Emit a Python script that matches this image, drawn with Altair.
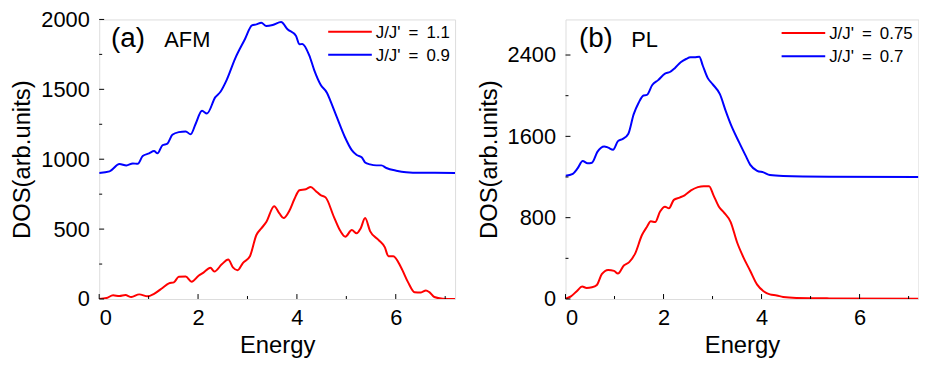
import altair as alt
import pandas as pd

# ---------------- Panel (a) AFM ----------------
a_labels = ["J/J'\u2009 = \u20091.1", "J/J'\u2009 = \u20090.9"]
a_blue_e = [0, 0.21, 0.41, 0.55, 0.68, 0.78, 0.88, 1.01, 1.11, 1.18, 1.28, 1.38, 1.48, 1.61, 1.75, 1.85,
            1.95, 2.08, 2.18, 2.35, 2.45, 2.58, 2.75, 2.95, 3.09, 3.18, 3.28, 3.38, 3.51, 3.68, 3.81,
            3.98, 4.05, 4.11, 4.25, 4.35, 4.48, 4.61, 4.68, 4.81, 4.97, 5.11, 5.21, 5.31, 5.38, 5.48,
            5.61, 5.71, 5.81, 6.01, 6.21, 6.5, 7.2]
a_blue_v = [902, 913, 965, 955, 970, 967, 1023, 1042, 1058, 1042, 1100, 1112, 1175, 1194, 1199, 1178,
            1252, 1346, 1327, 1444, 1481, 1568, 1720, 1860, 1958, 1965, 1977, 1953, 1960, 1981, 1930,
            1883, 1822, 1825, 1743, 1638, 1533, 1474, 1416, 1299, 1159, 1065, 1030, 1014, 977, 963,
            956, 956, 937, 918, 907, 903, 902]
a_red_e = [0, 0.15, 0.28, 0.41, 0.53, 0.65, 0.81, 0.98, 1.11, 1.28, 1.41, 1.51, 1.61, 1.75, 1.87, 2.01,
           2.11, 2.25, 2.33, 2.48, 2.61, 2.71, 2.80, 2.91, 3.05, 3.18, 3.28, 3.38, 3.54, 3.65, 3.73,
           3.85, 3.95, 4.05, 4.18, 4.28, 4.38, 4.48, 4.58, 4.75, 4.88, 4.98, 5.11, 5.21, 5.29, 5.38,
           5.48, 5.65, 5.78, 5.85, 5.95, 6.11, 6.25, 6.38, 6.51, 6.61, 6.68, 6.78, 6.95, 7.2]
a_red_v = [0, 7, 26, 21, 28, 14, 33, 19, 37, 79, 112, 119, 159, 161, 124, 166,
           189, 224, 196, 248, 283, 224, 206, 259, 306, 458, 505, 551, 664, 610, 579,
           633, 715, 778, 785, 801, 773, 743, 727, 586, 486, 446, 493, 470, 505, 579,
           486, 423, 369, 306, 306, 224, 119, 49, 47, 61, 49, 14, 2, 0]

# ---------------- Panel (b) PL ----------------
b_labels = ["J/J'\u2009 = \u20090.75", "J/J'\u2009 = \u20090.7"]
b_blue_e = [0, 0.15, 0.25, 0.35, 0.45, 0.54, 0.65, 0.79, 0.87, 0.97, 1.07, 1.17, 1.28, 1.39, 1.49, 1.59,
            1.66, 1.77, 1.89, 2.03, 2.13, 2.23, 2.35, 2.46, 2.55, 2.63, 2.73, 2.80, 2.90, 3.00, 3.15,
            3.27, 3.37, 3.54, 3.67, 3.77, 3.91, 4.04, 4.17, 4.44, 5.38, 7.2]
b_blue_v = [1213, 1232, 1287, 1357, 1335, 1341, 1447, 1501, 1489, 1469, 1553, 1575, 1623, 1816, 1928, 2002,
            2008, 2105, 2153, 2217, 2233, 2271, 2329, 2361, 2377, 2377, 2384, 2297, 2175, 2114, 2015,
            1848, 1720, 1543, 1415, 1319, 1261, 1245, 1219, 1210, 1203, 1200]
b_red_e = [0, 0.11, 0.23, 0.34, 0.43, 0.54, 0.64, 0.74, 0.87, 0.99, 1.07, 1.19, 1.30, 1.42, 1.56, 1.66,
           1.74, 1.83, 1.93, 2.03, 2.11, 2.21, 2.33, 2.43, 2.56, 2.70, 2.82, 2.93, 3.02, 3.13, 3.23,
           3.37, 3.50, 3.62, 3.77, 3.91, 4.04, 4.17, 4.31, 4.44, 4.71, 5.38, 7.2]
b_red_v = [3, 26, 77, 122, 109, 115, 138, 244, 286, 276, 250, 330, 363, 446, 629, 709,
           764, 757, 860, 908, 892, 975, 998, 1020, 1068, 1100, 1110, 1110, 1020, 908, 853,
           757, 558, 420, 276, 141, 77, 45, 35, 19, 10, 6, 3]

# ---------------- Ticks ----------------
x_major = [0, 2, 4, 6]
x_minor = [1, 3, 5, 7]
a_y_major = [0, 500, 1000, 1500, 2000]
a_y_minor = [250, 750, 1250, 1750]
b_y_major = [0, 800, 1600, 2400]
b_y_minor = [400, 1200, 2000]

FONT = "Liberation Sans"
RED = "#ff0000"
BLUE = "#0000ff"
H = 282


def panel(red_e, red_v, blue_e, blue_v, labels, ymax, y_major, y_minor, tag, name, width,
          leg_x, leg_y, tag_x, name_x):
    df = pd.concat([
        pd.DataFrame({"energy": red_e, "dos": red_v, "series": labels[0], "o": range(len(red_e))}),
        pd.DataFrame({"energy": blue_e, "dos": blue_v, "series": labels[1], "o": range(len(blue_e))}),
    ])
    xs = alt.Scale(domain=[0, 7.2], nice=False, zero=False)
    ys = alt.Scale(domain=[0, ymax], nice=False, zero=False)

    lines = alt.Chart(df).mark_line(strokeWidth=2, clip=True, interpolate="monotone").encode(
        x=alt.X("energy:Q", scale=xs, axis=alt.Axis(
            values=x_major, title="Energy", ticks=False, tickSize=0, domain=False, grid=False,
            labelFontSize=22, labelPadding=9, titleFontSize=24, titlePadding=5,
            labelFont=FONT, titleFont=FONT, labelColor="black", titleColor="black",
            titleFontWeight="normal", format="d")),
        y=alt.Y("dos:Q", scale=ys, axis=alt.Axis(
            values=y_major, title="DOS(arb.units)", ticks=False, tickSize=0, domain=False,
            grid=False, labelFontSize=22, labelPadding=10, titleFontSize=24, titlePadding=6,
            labelFont=FONT, titleFont=FONT, labelColor="black", titleColor="black",
            titleFontWeight="normal", format="d")),
        color=alt.Color("series:N", scale=alt.Scale(domain=labels, range=[RED, BLUE]), legend=None),
        order="o:Q",
    )

    def yticks(vals, length):
        return alt.Chart(pd.DataFrame({"t": vals})).mark_rule(color="black", strokeWidth=1).encode(
            y=alt.Y("t:Q", scale=ys), x=alt.value(0), x2=alt.value(length))

    def xticks(vals, length):
        return alt.Chart(pd.DataFrame({"t": vals})).mark_rule(color="black", strokeWidth=1).encode(
            x=alt.X("t:Q", scale=xs), y=alt.value(H), y2=alt.value(H - length))

    layers = [lines, yticks(y_major, 5), yticks(y_minor, 3), xticks(x_major, 5), xticks(x_minor, 3)]

    for i, (lab, col) in enumerate(zip(labels, [RED, BLUE])):
        yy = leg_y + i * 23.4
        layers.append(alt.Chart(pd.DataFrame({"s": [lab]})).mark_rule(color=col, strokeWidth=2).encode(
            x=alt.value(leg_x), x2=alt.value(leg_x + 44), y=alt.value(yy)))
        layers.append(alt.Chart(pd.DataFrame({"s": [lab]})).mark_text(
            align="left", baseline="middle", fontSize=17, font=FONT, color="black").encode(
            x=alt.value(leg_x + 48), y=alt.value(yy + 1), text="s:N"))

    layers.append(alt.Chart(pd.DataFrame({"s": [tag]})).mark_text(
        align="left", baseline="alphabetic", fontSize=28, font=FONT, color="black").encode(
        x=alt.value(tag_x), y=alt.value(27.3), text="s:N"))
    layers.append(alt.Chart(pd.DataFrame({"s": [name]})).mark_text(
        align="left", baseline="alphabetic", fontSize=22, font=FONT, color="black").encode(
        x=alt.value(name_x), y=alt.value(27.3), text="s:N"))

    return alt.layer(*layers).properties(width=width, height=H)


pa = panel(a_red_e, a_red_v, a_blue_e, a_blue_v, a_labels, 2000, a_y_major, a_y_minor,
           "(a)", "AFM", 359, 231, 12.3, 12, 65.7)
pb = panel(b_red_e, b_red_v, b_blue_e, b_blue_v, b_labels, 2750, b_y_major, b_y_minor,
           "(b)", "PL", 356, 218, 13.7, 13.5, 66.4)

chart = alt.hconcat(pa, pb, spacing=111.4, bounds="flush").properties(
    padding={"left": 2, "top": -2, "right": 0, "bottom": 0}
).configure_view(stroke="black", strokeWidth=1).configure(background="white")

chart.save("out.html", embed_options={"renderer": "svg", "actions": False})
